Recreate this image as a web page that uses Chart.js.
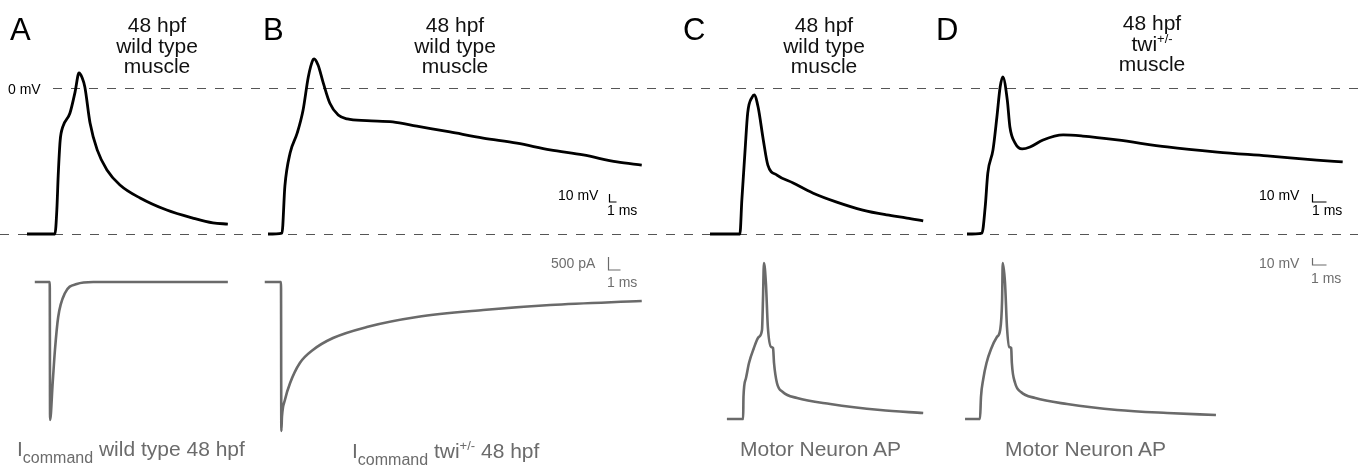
<!DOCTYPE html>
<html>
<head>
<meta charset="utf-8">
<script src="https://cdn.jsdelivr.net/npm/chart.js@4/dist/chart.umd.min.js"></script>
<style>
  body { margin: 0; background: #fff; }
  #wrap { position: relative; width: 1358px; height: 468px; font-family: "Liberation Sans", Arial, Helvetica, sans-serif; }
  #wrap canvas { position: absolute; left: 0; top: 0; }
  .t { position: absolute; white-space: nowrap; line-height: 1; }
  .letter { font-size: 31px; color: #000; }
  .title { font-size: 21px; line-height: 20.5px; text-align: center; width: 200px; color: #111; }
  .small { font-size: 14px; color: #000; }
  .gray { color: #6e6e6e; }
  .cap { font-size: 21px; color: #6b6b6b; }
  sub { font-size: 16px; position: relative; top: 7px; vertical-align: baseline; line-height: 0; }
  sup { font-size: 13px; position: relative; top: -8px; vertical-align: baseline; line-height: 0; }
</style>
</head>
<body>
<div id="wrap">
  <canvas id="chart" width="1358" height="468"></canvas>

  <div class="t letter" style="left:10px; top:14px;">A</div>
  <div class="t letter" style="left:263px; top:14px;">B</div>
  <div class="t letter" style="left:683px; top:14px;">C</div>
  <div class="t letter" style="left:936px; top:14px;">D</div>

  <div class="t title" style="left:57px; top:15px;">48 hpf<br>wild type<br>muscle</div>
  <div class="t title" style="left:355px; top:15px;">48 hpf<br>wild type<br>muscle</div>
  <div class="t title" style="left:724px; top:15px;">48 hpf<br>wild type<br>muscle</div>
  <div class="t title" style="left:1052px; top:13px;">48 hpf<br>twi<sup>+/-</sup><br>muscle</div>

  <div class="t small" style="left:8px; top:82px;">0 mV</div>

  <div class="t small" style="left:558px; top:188px;">10 mV</div>
  <div class="t small" style="left:607px; top:203px;">1 ms</div>
  <div class="t small" style="left:1259px; top:188px;">10 mV</div>
  <div class="t small" style="left:1312px; top:203px;">1 ms</div>

  <div class="t small gray" style="left:551px; top:256px;">500 pA</div>
  <div class="t small gray" style="left:607px; top:275px;">1 ms</div>
  <div class="t small gray" style="left:1259px; top:256px;">10 mV</div>
  <div class="t small gray" style="left:1311px; top:271px;">1 ms</div>

  <div class="t cap" style="left:17px; top:438px;">I<sub>command</sub> wild type 48 hpf</div>
  <div class="t cap" style="left:352px; top:440px;">I<sub>command</sub> twi<sup>+/-</sup> 48 hpf</div>
  <div class="t cap" style="left:740px; top:438px;">Motor Neuron AP</div>
  <div class="t cap" style="left:1005px; top:438px;">Motor Neuron AP</div>
</div>

<script>
// dados: tempo em ms, voltagem em mV, corrente em pA

// A - músculo wild type (topo)
const timeA = [0, 4.3, 4.6, 4.8, 5.1, 5.5, 6.6, 7.4, 8.0, 8.5, 8.9, 9.7, 10.8, 12.3, 14.3, 17.4, 21.5, 25.5, 28.6, 30.9];
const voltA = [-75, -75, -62, -45, -27, -20, -13, -2, 7.7, 5.1, 0.5, -18, -31.8, -42.1, -49.8, -56.5, -62.7, -66.8, -69.3, -69.9];

// B - músculo wild type com comando twi
const timeB = [0, 2.15, 2.6, 3.4, 4.5, 5.4, 6.2, 6.9, 7.1, 7.7, 8.5, 9.5, 10.8, 12.2, 15.2, 19.2, 22.9, 28.0, 33.1, 38.3, 43.4, 48.5, 53.7, 57.5];
const voltB = [-75, -74.5, -50.3, -33.4, -23.1, -11.3, 5.7, 14.4, 14.9, 11.8, 2.6, -7.7, -13.9, -15.9, -16.8, -17.4, -19.6, -22.6, -25.7, -28.3, -31.8, -34.4, -38.0, -39.6];

// C - músculo wild type, comando = AP de motoneurônio
const timeC = [0, 4.6, 4.9, 5.4, 5.8, 6.5, 6.8, 7.4, 8.2, 8.9, 10.3, 12.8, 15.8, 19.5, 23.5, 27.2, 30.3, 32.8];
const voltC = [-75, -75, -57.5, -31.8, -12.8, -4.6, -3.6, -9.8, -26.7, -39.6, -44.7, -48.8, -53.9, -58.6, -62.7, -65.2, -66.8, -68.3];

// D - músculo twi+/-
const timeD = [0, 2.3, 2.8, 3.2, 4.0, 4.6, 5.1, 5.5, 6.2, 6.6, 7.4, 8.5, 9.7, 11.7, 14.8, 17.8, 23.1, 30.8, 38.5, 46.2, 53.8, 57.8];
const voltD = [-75, -74.5, -61.1, -43.7, -31.8, -14.9, 0.5, 5.7, -6.2, -20.0, -28.3, -31.3, -30.3, -26.7, -24.1, -24.7, -26.7, -30.3, -32.9, -34.9, -37.0, -38.0];

// correntes de comando (embaixo de A e B)
const timeCmdA = [1.2, 3.5, 3.55, 3.95, 4.3, 4.8, 5.85, 7.65, 10.2, 30.9];
const currCmdA = [0, 0, -2760, -2020, -1360, -700, -220, -40, 0, 0];
const timeCmdB = [-0.5, 2.0, 2.05, 2.15, 2.6, 3.4, 4.9, 6.9, 10.0, 15.2, 22.9, 33.1, 43.4, 57.5];
const currCmdB = [0, 0, -2980, -2690, -2360, -2020, -1620, -1360, -1120, -900, -700, -560, -460, -380];

// AP de motoneurônio (embaixo de C e D)
const timeMnC = [2.6, 5.1, 5.15, 5.5, 6.0, 6.7, 7.5, 8.0, 8.15, 8.3, 8.6, 8.9, 9.4, 9.7, 9.85, 10.3, 11.2, 13.4, 18.5, 26.2, 32.8];
const voltMnC = [-70, -70, -59, -50, -42, -35, -29, -25.5, -10.5, 8, -2, -24, -34, -34.5, -42, -52, -56.5, -59.5, -62.5, -65.5, -67];
const timeMnD = [-0.3, 2.0, 2.15, 2.5, 3.0, 3.7, 4.6, 5.1, 5.4, 5.5, 5.85, 6.15, 6.5, 6.8, 6.9, 7.4, 8.3, 10.5, 15.4, 23.1, 30.8, 38.3];
const voltMnD = [-70, -70, -59, -50, -42, -35, -29, -25.5, -10.5, 8, -2, -24, -34, -34.5, -42, -52, -56.5, -59.5, -62.5, -65.5, -67, -68];

const REST = -75; // linha tracejada de baixo

// layout
const W = 1358, H = 468;
const PX_PER_MS = 6.5;

function xRange(originPx) {
  return { min: -originPx / PX_PER_MS, max: (W - originPx) / PX_PER_MS };
}
function yRange(v0, p0, v1, p1) {
  const per = (v1 - v0) / (p1 - p0);
  return { min: v0 + (H - p0) * per, max: v0 - p0 * per };
}

function pts(t, v) {
  return t.map((x, i) => ({ x: x, y: v[i] }));
}

function trace(t, v, xId, yId, color) {
  return {
    data: pts(t, v),
    xAxisID: xId,
    yAxisID: yId,
    borderColor: color,
    borderWidth: color === '#000' ? 2.8 : 2.6,
    pointRadius: 0,
    cubicInterpolationMode: 'monotone',
    fill: false
  };
}

const BLACK = '#000';
const GRAY = '#6a6a6a';

// linhas tracejadas e barras de escala
const guides = {
  id: 'guides',
  beforeDatasetsDraw(chart) {
    const ctx = chart.ctx;
    const yV = chart.scales.yV;
    const y0 = Math.round(yV.getPixelForValue(0)) + 0.5;
    const yR = Math.round(yV.getPixelForValue(REST)) + 0.5;
    ctx.save();
    ctx.strokeStyle = '#555';
    ctx.lineWidth = 1.1;
    ctx.setLineDash([9, 9]);
    ctx.beginPath();
    ctx.moveTo(53, y0); ctx.lineTo(W, y0);
    ctx.moveTo(0, yR); ctx.lineTo(W, yR);
    ctx.stroke();
    ctx.restore();
  },
  afterDatasetsDraw(chart) {
    const ctx = chart.ctx;
    const bars = [
      [609.5, 194, 8, 7, BLACK],
      [1312.5, 194, 8, 14, BLACK],
      [608.5, 257, 13, 12, GRAY],
      [1312.5, 258, 7, 14, GRAY]
    ];
    ctx.save();
    ctx.lineWidth = 1.2;
    bars.forEach(([x, y, h, w, c]) => {
      ctx.strokeStyle = c;
      ctx.beginPath();
      ctx.moveTo(x, y);
      ctx.lineTo(x, y + h);
      ctx.lineTo(x + w, y + h);
      ctx.stroke();
    });
    ctx.restore();
  }
};

const ctx = document.getElementById('chart').getContext('2d');
const chart = new Chart(ctx, {
  type: 'line',
  data: {
    datasets: [
      trace(timeA, voltA, 'xA', 'yV', BLACK),
      trace(timeB, voltB, 'xB', 'yV', BLACK),
      trace(timeC, voltC, 'xC', 'yV', BLACK),
      trace(timeD, voltD, 'xD', 'yV', BLACK),
      trace(timeCmdA, currCmdA, 'xA', 'yI', GRAY),
      trace(timeCmdB, currCmdB, 'xB', 'yI', GRAY),
      trace(timeMnC, voltMnC, 'xC', 'yN', GRAY),
      trace(timeMnD, voltMnD, 'xD', 'yN', GRAY)
    ]
  },
  options: {
    responsive: false,
    animation: false,
    devicePixelRatio: 1,
    layout: { padding: 0 },
    plugins: {
      legend: { display: false },
      tooltip: { enabled: false }
    },
    scales: {
      xA: { type: 'linear', display: false, ...xRange(27) },
      xB: { type: 'linear', display: false, ...xRange(268) },
      xC: { type: 'linear', display: false, ...xRange(710) },
      xD: { type: 'linear', display: false, ...xRange(967) },
      yV: { type: 'linear', display: false, ...yRange(0, 88, REST, 234) },
      yI: { type: 'linear', display: false, ...yRange(0, 282, -2760, 420) },
      yN: { type: 'linear', display: false, ...yRange(-70, 419, 8, 263) }
    }
  },
  plugins: [guides]
});
</script>
</body>
</html>
